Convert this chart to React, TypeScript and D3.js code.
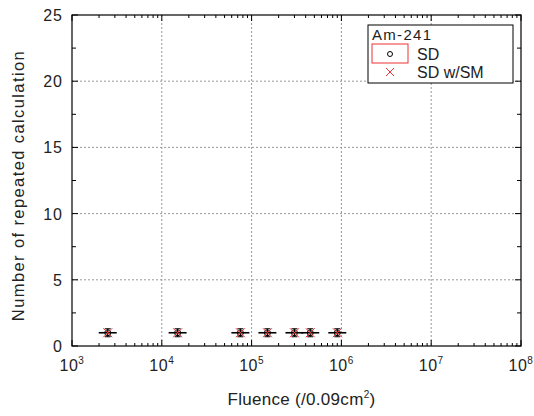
import React, { useRef, useEffect } from 'react';
import * as d3 from 'd3';

// Fluence values (/0.09cm2) and repeat counts
const fluenceSD = [2.5e3, 1.5e4, 7.5e4, 1.5e5, 3e5, 4.5e5, 9e5];
const repeatSD = [1, 1, 1, 1, 1, 1, 1];
const fluenceSM = [2.5e3, 1.5e4, 7.5e4, 1.5e5, 3e5, 4.5e5, 9e5];
const repeatSM = [1, 1, 1, 1, 1, 1, 1];
const xDecades = [3, 4, 5, 6, 7, 8];
const yTicks = [0, 5, 10, 15, 20, 25];

const App = () => {
  const svgRef = useRef<SVGSVGElement>(null);

  useEffect(() => {
    const svg = d3.select(svgRef.current);
    svg.selectAll('*').remove();

    const width = 534;
    const height = 416;
    const margin = { top: 15, right: 13, bottom: 70, left: 72 };
    const w = width - margin.left - margin.right;
    const h = height - margin.top - margin.bottom;
    const font = 'Liberation Sans, Arial, sans-serif';

    const g = svg
      .append('g')
      .attr('transform', `translate(${margin.left}, ${margin.top})`);

    const x = d3.scaleLog().domain([1e3, 1e8]).range([0, w]);
    const y = d3.scaleLinear().domain([0, 25]).range([h, 0]);

    // Grid
    xDecades.slice(1, -1).forEach((d) => {
      g.append('line')
        .attr('x1', x(10 ** d)).attr('x2', x(10 ** d))
        .attr('y1', 0).attr('y2', h)
        .attr('stroke', '#999').attr('stroke-dasharray', '2,2');
    });
    yTicks.slice(1, -1).forEach((d) => {
      g.append('line')
        .attr('x1', 0).attr('x2', w)
        .attr('y1', y(d)).attr('y2', y(d))
        .attr('stroke', '#999').attr('stroke-dasharray', '2,2');
    });

    // Ticks (inside, all sides)
    const minor: number[] = [];
    xDecades.slice(0, -1).forEach((d) => {
      for (let k = 2; k <= 9; k++) minor.push(k * 10 ** d);
    });
    minor.forEach((v) => {
      g.append('line').attr('x1', x(v)).attr('x2', x(v)).attr('y1', h).attr('y2', h - 3).attr('stroke', '#000');
      g.append('line').attr('x1', x(v)).attr('x2', x(v)).attr('y1', 0).attr('y2', 3).attr('stroke', '#000');
    });
    xDecades.forEach((d) => {
      g.append('line').attr('x1', x(10 ** d)).attr('x2', x(10 ** d)).attr('y1', h).attr('y2', h - 6).attr('stroke', '#000');
      g.append('line').attr('x1', x(10 ** d)).attr('x2', x(10 ** d)).attr('y1', 0).attr('y2', 6).attr('stroke', '#000');
    });
    d3.range(0, 25.01, 2.5).forEach((v) => {
      const len = v % 5 === 0 ? 6 : 4;
      g.append('line').attr('x1', 0).attr('x2', len).attr('y1', y(v)).attr('y2', y(v)).attr('stroke', '#000');
      g.append('line').attr('x1', w).attr('x2', w - len).attr('y1', y(v)).attr('y2', y(v)).attr('stroke', '#000');
    });

    // Frame
    g.append('rect')
      .attr('width', w).attr('height', h)
      .attr('fill', 'none').attr('stroke', '#000').attr('stroke-width', 1.2);

    // Y tick labels
    yTicks.forEach((v) => {
      g.append('text')
        .attr('x', -9).attr('y', y(v) + 6)
        .attr('text-anchor', 'end')
        .attr('font-family', font).attr('font-size', 16).attr('letter-spacing', 1).attr('fill', '#222')
        .text(v);
    });

    // X tick labels 10^n
    xDecades.forEach((d) => {
      const t = g.append('text')
        .attr('x', x(10 ** d)).attr('y', h + 25)
        .attr('text-anchor', 'middle')
        .attr('font-family', font).attr('font-size', 16).attr('letter-spacing', 0.5).attr('fill', '#222');
      t.append('tspan').text('10');
      t.append('tspan').attr('dy', -7).attr('font-size', 10).text(d);
    });

    // Axis titles
    const xt = svg.append('text')
      .attr('x', margin.left + w / 2 + 5).attr('y', 405)
      .attr('text-anchor', 'middle')
      .attr('font-family', font).attr('font-size', 17).attr('letter-spacing', 0.3).attr('fill', '#222');
    xt.append('tspan').text('Fluence (/0.09cm');
    xt.append('tspan').attr('dy', -7).attr('font-size', 10).text('2');
    xt.append('tspan').attr('dy', 7).text(')');

    svg.append('text')
      .attr('transform', `translate(24, ${margin.top + h / 2 + 5}) rotate(-90)`)
      .attr('text-anchor', 'middle')
      .attr('font-family', font).attr('font-size', 16.5).attr('letter-spacing', 1.4).attr('fill', '#222')
      .text('Number of repeated calculation');

    // SD points with error bars
    fluenceSD.forEach((f, i) => {
      const px = x(f);
      const py = y(repeatSD[i]);
      g.append('line').attr('x1', px - 9).attr('x2', px + 9).attr('y1', py).attr('y2', py).attr('stroke', '#000').attr('stroke-width', 1.6);
      g.append('line').attr('x1', px).attr('x2', px).attr('y1', py - 4).attr('y2', py + 4).attr('stroke', '#000').attr('stroke-width', 1.2);
      g.append('line').attr('x1', px - 3).attr('x2', px + 3).attr('y1', py - 4).attr('y2', py - 4).attr('stroke', '#000');
      g.append('line').attr('x1', px - 3).attr('x2', px + 3).attr('y1', py + 4).attr('y2', py + 4).attr('stroke', '#000');
      g.append('circle').attr('cx', px).attr('cy', py).attr('r', 3).attr('fill', 'none').attr('stroke', '#000');
    });

    // SD w/SM points (red x)
    fluenceSM.forEach((f, i) => {
      const px = x(f);
      const py = y(repeatSM[i]);
      g.append('path')
        .attr('d', `M${px - 4.5},${py - 4.5}L${px + 4.5},${py + 4.5}M${px - 4.5},${py + 4.5}L${px + 4.5},${py - 4.5}`)
        .attr('stroke', '#e33').attr('stroke-width', 1);
    });

    // Legend
    const lg = svg.append('g').attr('transform', 'translate(368, 25)');
    lg.append('rect').attr('width', 145).attr('height', 58).attr('fill', '#fff').attr('stroke', '#000');
    lg.append('text').attr('x', 4).attr('y', 15)
      .attr('font-family', font).attr('font-size', 15).attr('fill', '#222').attr('letter-spacing', 1.3)
      .text('Am-241');
    lg.append('rect').attr('x', 4).attr('y', 19).attr('width', 36).attr('height', 19).attr('fill', 'none').attr('stroke', '#e33');
    lg.append('circle').attr('cx', 22).attr('cy', 29).attr('r', 2.5).attr('fill', 'none').attr('stroke', '#000');
    lg.append('text').attr('x', 49).attr('y', 35)
      .attr('font-family', font).attr('font-size', 16).attr('fill', '#222')
      .text('SD');
    lg.append('path').attr('d', 'M18,43L26,51M18,51L26,43').attr('stroke', '#e33');
    lg.append('text').attr('x', 49).attr('y', 53)
      .attr('font-family', font).attr('font-size', 16).attr('fill', '#222')
      .text('SD w/SM');
  }, []);

  return <svg ref={svgRef} width={534} height={416} style={{ position: 'absolute', left: 0, top: 0 }} />;
};

export default App;
